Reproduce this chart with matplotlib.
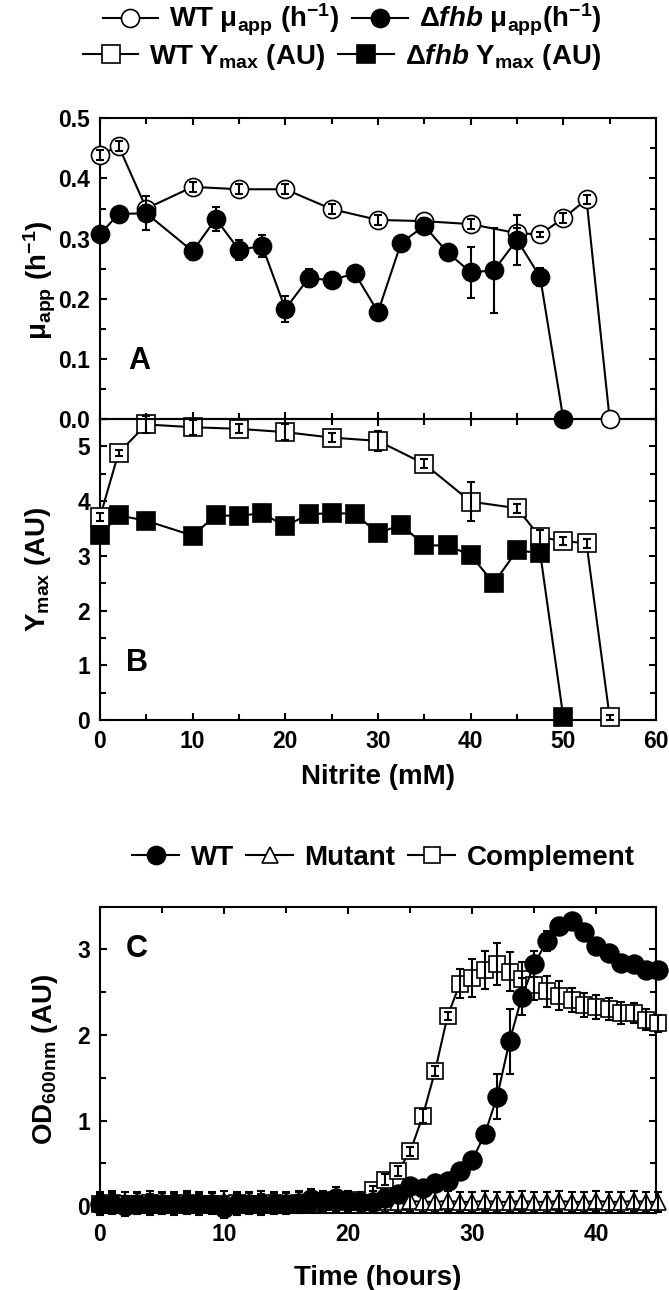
import matplotlib
matplotlib.use('Agg')
import matplotlib.pyplot as plt
from matplotlib.lines import Line2D
from matplotlib.ticker import MultipleLocator, FormatStrFormatter

plt.rcParams['font.family'] = ['Liberation Sans', 'DejaVu Sans']
plt.rcParams['font.weight'] = 'bold'
plt.rcParams['axes.labelweight'] = 'bold'
plt.rcParams['mathtext.fontset'] = 'custom'
plt.rcParams['mathtext.rm'] = 'Liberation Sans:bold'
plt.rcParams['mathtext.bf'] = 'Liberation Sans:bold'
plt.rcParams['mathtext.it'] = 'Liberation Sans:bold:italic'
plt.rcParams['mathtext.sf'] = 'Liberation Sans:bold'
plt.rcParams['mathtext.default'] = 'bf'

# ---------------- Panel A / B data ----------------
nitrite_wt = [0, 2, 5, 10, 15, 20, 25, 30, 35, 40, 45, 47.5, 50, 52.5, 55]
wt_mu = [0.439, 0.454, 0.350, 0.386, 0.382, 0.382, 0.349, 0.331, 0.329, 0.324,
         0.309, 0.307, 0.334, 0.365, 0.0]
wt_mu_err = [0.008, 0.008, 0.006, 0.008, 0.008, 0.008, 0.008, 0.008, 0.006, 0.008,
             0.008, 0.004, 0.008, 0.008, 0.0]

nitrite_fhb = [0, 2, 5, 10, 12.5, 15, 17.5, 20, 22.5, 25, 27.5, 30, 32.5, 35, 37.5,
               40, 42.5, 45, 47.5, 50]
fhb_mu = [0.307, 0.341, 0.342, 0.279, 0.333, 0.281, 0.288, 0.183, 0.234, 0.231,
          0.242, 0.178, 0.293, 0.321, 0.277, 0.244, 0.247, 0.298, 0.236, 0.0]
fhb_mu_err = [0.005, 0.005, 0.028, 0.014, 0.020, 0.017, 0.018, 0.021, 0.015, 0.010,
              0.008, 0.005, 0.005, 0.008, 0.005, 0.042, 0.070, 0.042, 0.015, 0.0]

wt_ymax = [3.71, 4.88, 5.40, 5.35, 5.32, 5.26, 5.16, 5.10, 4.68, 3.99, 3.87, 3.34,
           3.27, 3.23, 0.05]
wt_ymax_err = [0.08, 0.06, 0.15, 0.14, 0.08, 0.15, 0.08, 0.18, 0.08, 0.36, 0.08,
               0.14, 0.08, 0.08, 0.05]

fhb_ymax = [3.38, 3.74, 3.64, 3.37, 3.74, 3.73, 3.78, 3.54, 3.76, 3.78, 3.77, 3.41,
            3.57, 3.19, 3.19, 3.01, 2.50, 3.10, 3.05, 0.05]
fhb_ymax_err = [0.05, 0.05, 0.05, 0.05, 0.05, 0.05, 0.05, 0.05, 0.05, 0.05, 0.05, 0.05,
                0.05, 0.05, 0.05, 0.05, 0.12, 0.05, 0.05, 0.0]

# ---------------- Panel C data ----------------
time_h = list(range(0, 46))
wt_od = [0.02, 0.03, 0.00, 0.03, 0.02, 0.03, 0.02, 0.03, 0.02, 0.03, -0.02, 0.02,
         0.03, 0.02, 0.03, 0.03, 0.04, 0.08, 0.06, 0.10, 0.06, 0.05,
         0.05, 0.10, 0.14, 0.23, 0.21, 0.27, 0.29, 0.41, 0.54, 0.84, 1.28, 1.93,
         2.45, 2.83, 3.10, 3.27, 3.33, 3.21, 3.04, 2.96, 2.84, 2.83, 2.76, 2.76]
wt_od_err = [0.12] * 22 + [0.03, 0.03, 0.03, 0.03, 0.03, 0.03, 0.03, 0.04, 0.06, 0.10,
                           0.26, 0.38, 0.22, 0.15, 0.12, 0.10, 0.05, 0.03, 0.03, 0.03,
                           0.03, 0.03, 0.03, 0.03]
mutant_od = [0.05, 0.06, 0.05, 0.05, 0.06, 0.05, 0.05, 0.06, 0.05, 0.05, 0.06, 0.05,
             0.05, 0.06, 0.05, 0.05, 0.06, 0.05, 0.05, 0.06, 0.05, 0.05, 0.06, 0.05,
             0.05, 0.06, 0.05, 0.05, 0.06, 0.05, 0.05, 0.06, 0.05, 0.05, 0.06, 0.05,
             0.05, 0.06, 0.05, 0.05, 0.06, 0.05, 0.05, 0.06, 0.05, 0.05]
mutant_od_err = [0.12] * 46
comp_od = [0.03, 0.04, 0.03, 0.03, 0.04, 0.03, 0.03, 0.04, 0.03, 0.03, 0.03, 0.04,
           0.03, 0.03, 0.04, 0.03, 0.04, 0.04, 0.05, 0.07, 0.07, 0.05,
           0.19, 0.31, 0.41, 0.64, 1.05, 1.58, 2.22, 2.60, 2.67, 2.76, 2.83, 2.74,
           2.65, 2.59, 2.51, 2.46, 2.41, 2.35, 2.33, 2.30, 2.26, 2.26, 2.18, 2.14]
comp_od_err = [0.08] * 22 + [0.05, 0.06, 0.06, 0.05, 0.08, 0.06, 0.05, 0.17, 0.22, 0.22,
                             0.24, 0.23, 0.20, 0.18, 0.18, 0.17, 0.14, 0.14, 0.14, 0.13,
                             0.13, 0.12, 0.12, 0.10]

# ---------------- Figure ----------------
fig = plt.figure(figsize=(6.69, 12.90), dpi=100)
L, W = 100 / 669, 556 / 669
axA = fig.add_axes([L, 1 - 419 / 1290, W, (419 - 118.3) / 1290])
axB = fig.add_axes([L, 1 - 720 / 1290, W, (720 - 419) / 1290])
axC = fig.add_axes([L, 1 - 1213 / 1290, W, (1213 - 906.7) / 1290])
axA.set_zorder(3)
axA.patch.set_alpha(0)

LW = 1.5
MEW = 1.2
TICKFS = 16.5
LABFS = 20


def series(ax, x, y, err, marker, filled, ms):
    ax.plot(x, y, color='black', lw=LW, marker=marker, ms=ms,
            mfc='black' if filled else 'white', mec='black', mew=MEW,
            clip_on=False, zorder=3)
    keep = [i for i, e in enumerate(err) if e > 0]
    ax.errorbar([x[i] for i in keep], [y[i] for i in keep],
                yerr=[err[i] for i in keep], fmt='none', ecolor='black',
                elinewidth=1.5, capsize=3, capthick=1.5, clip_on=False, zorder=4)


def style(ax):
    for s in ax.spines.values():
        s.set_linewidth(1.5)
    ax.tick_params(which='both', direction='in', top=True, right=True,
                   width=1.5, labelsize=TICKFS, pad=7)
    ax.tick_params(which='major', length=5)
    ax.tick_params(which='minor', length=4)


# Panel A
series(axA, nitrite_wt, wt_mu, wt_mu_err, 'o', False, 13)
series(axA, nitrite_fhb, fhb_mu, fhb_mu_err, 'o', True, 13)
axA.set_xlim(0, 60)
axA.set_ylim(0, 0.5)
axA.xaxis.set_major_locator(MultipleLocator(10))
axA.xaxis.set_minor_locator(MultipleLocator(5))
axA.yaxis.set_major_locator(MultipleLocator(0.1))
axA.yaxis.set_minor_locator(MultipleLocator(0.05))
axA.yaxis.set_major_formatter(FormatStrFormatter('%.1f'))
style(axA)
axA.tick_params(labelbottom=False)
axA.set_ylabel('μ$_{app}$ (h$^{-1}$)', fontsize=LABFS)
axA.yaxis.set_label_coords(-0.075, 0.46)
axA.text(4.2, 0.097, 'A', fontsize=22, fontweight='bold', ha='center', va='center')

# Panel B
series(axB, nitrite_wt, wt_ymax, wt_ymax_err, 's', False, 13)
series(axB, nitrite_fhb, fhb_ymax, fhb_ymax_err, 's', True, 13)
axB.set_xlim(0, 60)
axB.set_ylim(0, 5.5)
axB.xaxis.set_major_locator(MultipleLocator(10))
axB.xaxis.set_minor_locator(MultipleLocator(5))
axB.yaxis.set_major_locator(MultipleLocator(1))
axB.yaxis.set_minor_locator(MultipleLocator(0.5))
style(axB)
axB.set_ylabel('Y$_{max}$ (AU)', fontsize=LABFS)
axB.yaxis.set_label_coords(-0.085, 0.5)
axB.set_xlabel('Nitrite (mM)', fontsize=LABFS, labelpad=8)
axB.text(4.0, 1.04, 'B', fontsize=22, fontweight='bold', ha='center', va='center')

# Panel C
series(axC, time_h, mutant_od, mutant_od_err, '^', False, 12)
series(axC, time_h, comp_od, comp_od_err, 's', False, 11)
series(axC, time_h, wt_od, wt_od_err, 'o', True, 13.5)
axC.set_xlim(0, 44.8)
axC.set_ylim(-0.08, 3.5)
axC.xaxis.set_major_locator(MultipleLocator(10))
axC.xaxis.set_minor_locator(MultipleLocator(5))
axC.yaxis.set_major_locator(MultipleLocator(1))
axC.yaxis.set_minor_locator(MultipleLocator(0.5))
style(axC)
axC.set_ylabel('OD$_{600nm}$ (AU)', fontsize=LABFS)
axC.yaxis.set_label_coords(-0.072, 0.5)
axC.set_xlabel('Time (hours)', fontsize=LABFS, labelpad=14)
axC.text(3.0, 3.0, 'C', fontsize=22, fontweight='bold', ha='center', va='center')


def handle(marker, filled, ms):
    return Line2D([], [], color='black', lw=LW, marker=marker, ms=ms,
                  mfc='black' if filled else 'white', mec='black', mew=MEW)


leg_kw = dict(loc='center', frameon=False, fontsize=LABFS, handletextpad=0.4,
              columnspacing=0.45, borderpad=0, borderaxespad=0)
fig.legend([handle('o', False, 13), handle('o', True, 13)],
           ['WT μ$_{app}$ (h$^{-1}$)', 'Δ$\\mathit{fhb}$ μ$_{app}$(h$^{-1}$)'],
           ncol=2, handlelength=2.0, bbox_to_anchor=(0.526, 1 - 20 / 1290), **leg_kw)
fig.legend([handle('s', False, 13), handle('s', True, 13)],
           ['WT Y$_{max}$ (AU)', 'Δ$\\mathit{fhb}$ Y$_{max}$ (AU)'],
           ncol=2, handlelength=2.0, bbox_to_anchor=(0.511, 1 - 57 / 1290), **leg_kw)
fig.legend([handle('o', True, 13), handle('^', False, 12), handle('s', False, 11)],
           ['WT', 'Mutant', 'Complement'],
           ncol=3, handlelength=1.7, bbox_to_anchor=(0.573, 1 - 858 / 1290), **leg_kw)

fig.savefig('out.png', dpi=100)
